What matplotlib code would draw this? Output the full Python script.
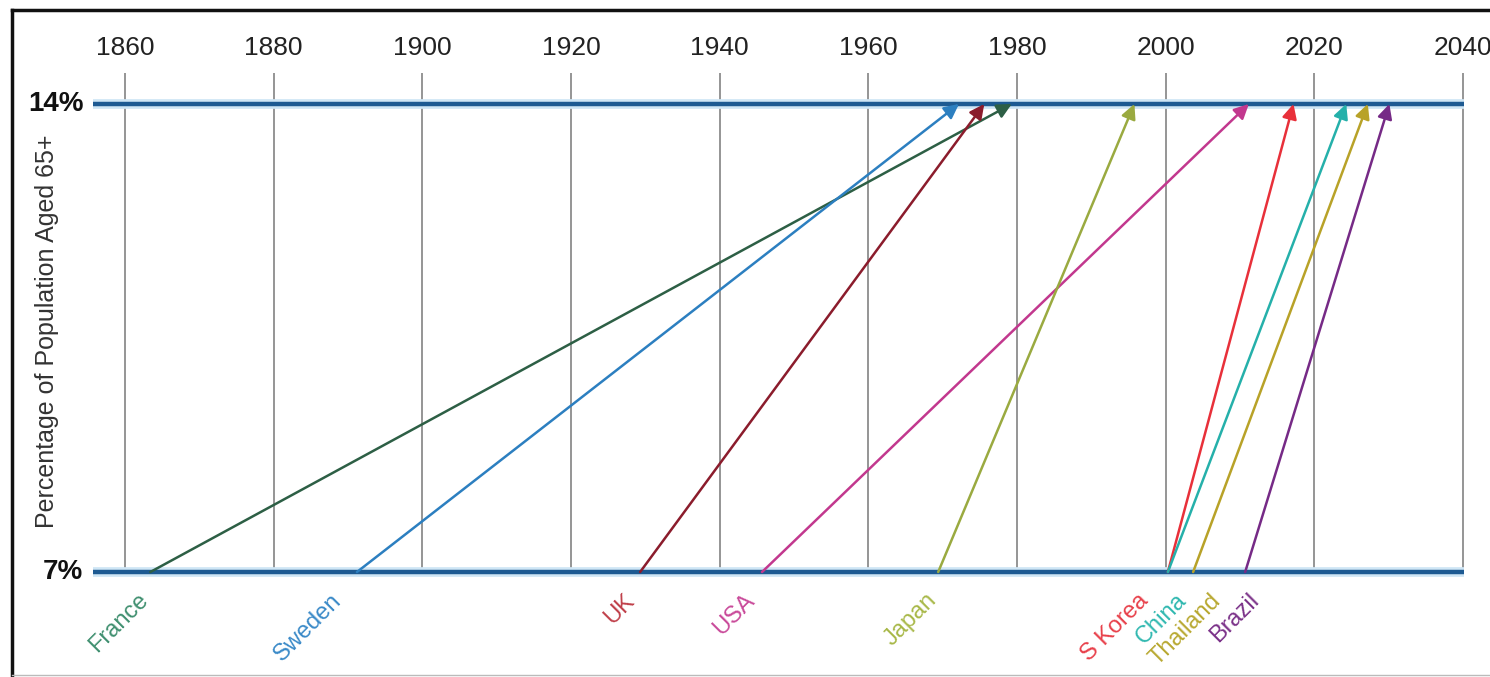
import numpy as np
import matplotlib
matplotlib.use('Agg')
import matplotlib.pyplot as plt
from matplotlib.lines import Line2D

# years at which each country went from 7% to 14% aged 65+
countries = ['France', 'Sweden', 'UK', 'USA', 'Japan', 'S Korea', 'China', 'Thailand', 'Brazil']
start_year = [1863.4, 1891.2, 1929.3, 1945.7, 1969.4, 2000.3, 2000.3, 2003.7, 2010.7]
end_year = [1979.3, 1972.2, 1975.6, 2011.2, 1995.8, 2017.2, 2024.3, 2027.2, 2030.1]
year_ticks = [1860, 1880, 1900, 1920, 1940, 1960, 1980, 2000, 2020, 2040]
low_pct, high_pct = 7, 14

line_colors = ['#2d5f45', '#2c7fc0', '#8b1c2c', '#c2388e', '#9aaa40',
               '#e8303a', '#25b0aa', '#b8a228', '#762a86']
label_colors = ['#3f8f6f', '#3a8ac8', '#c0404a', '#c94a9a', '#a8b848',
                '#e8404a', '#30b8b0', '#b8a830', '#7a3088']
label_x = [1861.6, 1887.6, 1927.0, 1943.2, 1967.7, 1996.2, 2001.3, 2006.0, 2011.1]

narrow = ['Liberation Sans Narrow', 'Liberation Sans', 'DejaVu Sans']

fig = plt.figure(figsize=(14.9, 6.77), dpi=100)
ax = fig.add_axes([0, 0, 1, 1])
ax.set_xlim(1843.18, 2043.64)
ax.set_ylim(5.430, 15.555)
ax.axis('off')

# vertical grid
ax.vlines(year_ticks, low_pct, 14.46, color='#8c8c8c', lw=1.3, zorder=1)
for yr in year_ticks:
    ax.text(yr, 14.84, str(yr), ha='center', va='center', fontsize=19,
            family=narrow, color='#222222')

# the two reference levels
for lvl in (low_pct, high_pct):
    ax.hlines(lvl, 1855.7, 2040.2, color='#cfe6f5', lw=7, zorder=2)
    ax.hlines(lvl, 1855.7, 2040.2, color='#1d5a92', lw=3.2, zorder=3)
    ax.text(1854.4, lvl, f'{lvl}%', ha='right', va='center', fontsize=20,
            fontweight='bold', family=['Liberation Sans', 'DejaVu Sans'], color='#111111')

ax.text(1849.5, 10.6, 'Percentage of Population Aged 65+', rotation=90,
        ha='center', va='center', fontsize=18, family=narrow, color='#333333')

for i, name in enumerate(countries):
    ax.annotate('', xy=(end_year[i], high_pct), xytext=(start_year[i], low_pct),
                arrowprops=dict(arrowstyle='-|>', color=line_colors[i], lw=1.8,
                                mutation_scale=22, shrinkA=0, shrinkB=0),
                zorder=4)
    ax.text(label_x[i], 6.74, name, rotation=45, rotation_mode='anchor',
            ha='right', va='top', fontsize=17, family=narrow, color=label_colors[i])

# picture frame
fig.add_artist(Line2D([12 / 1490, 1], [1 - 10 / 677] * 2, transform=fig.transFigure,
                      color='#111111', lw=2.5))
fig.add_artist(Line2D([12 / 1490] * 2, [0, 1 - 10 / 677], transform=fig.transFigure,
                      color='#111111', lw=2.5))
fig.add_artist(Line2D([12 / 1490, 1], [2 / 677] * 2, transform=fig.transFigure,
                      color='#bbbbbb', lw=1))

fig.savefig('out.png', dpi=100, facecolor='white')
